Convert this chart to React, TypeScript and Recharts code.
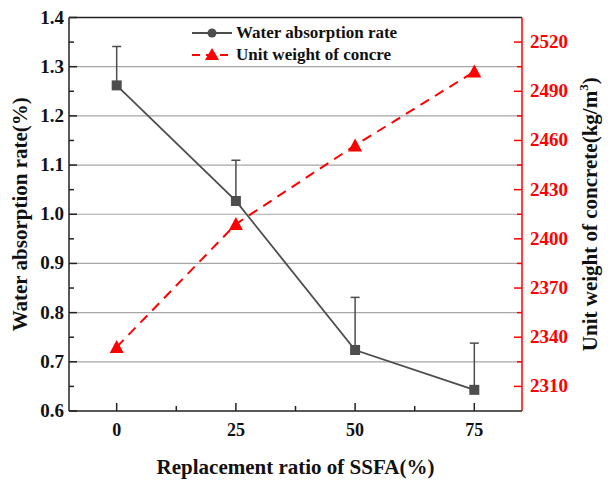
import React from "react";
import {
  LineChart,
  Line,
  XAxis,
  YAxis,
  ErrorBar,
  ReferenceLine,
} from "recharts";

const ratios = [0, 25, 50, 75];
const waterAbsorption = [1.262, 1.027, 0.724, 0.643];
const waterError = [0.079, 0.083, 0.107, 0.095];
const unitWeight = [2334, 2409, 2457, 2502];

const xTicks = [0, 12.5, 25, 37.5, 50, 62.5, 75];
const xMajor = [0, 25, 50, 75];
const leftTicks = [0.6, 0.65, 0.7, 0.75, 0.8, 0.85, 0.9, 0.95, 1.0, 1.05, 1.1, 1.15, 1.2, 1.25, 1.3, 1.35, 1.4];
const leftMajor = [0.6, 0.7, 0.8, 0.9, 1.0, 1.1, 1.2, 1.3, 1.4];
const gridValues = [0.7, 0.8, 0.9, 1.0, 1.1, 1.2, 1.3];
const rightTicks = [2310, 2325, 2340, 2355, 2370, 2385, 2400, 2415, 2430, 2445, 2460, 2475, 2490, 2505, 2520];
const rightMajor = [2310, 2340, 2370, 2400, 2430, 2460, 2490, 2520];

const data = ratios.map((r, i) => ({
  x: r,
  water: waterAbsorption[i],
  err: [0, waterError[i]],
  errTop: waterAbsorption[i] + waterError[i],
  weight: unitWeight[i],
}));

const FONT = "'Liberation Serif', 'Times New Roman', serif";
const GREY = "#4d4d4d";
const RED = "#ff0000";

const isMajor = (list: number[], v: number) => list.some((m) => Math.abs(m - v) < 1e-6);

const XTick = ({ x, y, payload }: any) => {
  const major = isMajor(xMajor, payload.value);
  return (
    <g>
      <line x1={x} x2={x} y1={y} y2={y - (major ? 8 : 5)} stroke="#222" strokeWidth={1.5} />
      {major && (
        <text x={x} y={y + 25} textAnchor="middle" fontFamily={FONT} fontWeight="bold" fontSize={18} fill="#111">
          {payload.value}
        </text>
      )}
    </g>
  );
};

const LeftTick = ({ x, y, payload }: any) => {
  const major = isMajor(leftMajor, payload.value);
  return (
    <g>
      <line x1={x} x2={x + (major ? 8 : 5)} y1={y} y2={y} stroke="#222" strokeWidth={1.5} />
      {major && (
        <text x={x - 5} y={y + 6} textAnchor="end" fontFamily={FONT} fontWeight="bold" fontSize={19} fill="#111">
          {payload.value.toFixed(1)}
        </text>
      )}
    </g>
  );
};

const RightTick = ({ x, y, payload }: any) => {
  const major = isMajor(rightMajor, payload.value);
  return (
    <g>
      <line x1={x} x2={x - (major ? 8 : 5)} y1={y} y2={y} stroke={RED} strokeWidth={1.5} />
      {major && (
        <text x={x + 8} y={y + 6} textAnchor="start" fontFamily={FONT} fontWeight="bold" fontSize={19} fill={RED}>
          {payload.value}
        </text>
      )}
    </g>
  );
};

const SquareDot = ({ cx, cy }: any) =>
  cx == null ? null : <rect x={cx - 5} y={cy - 5} width={10} height={10} fill={GREY} />;

const CapDot = ({ cx, cy }: any) =>
  cx == null ? null : <line x1={cx - 4.5} x2={cx + 4.5} y1={cy} y2={cy} stroke={GREY} strokeWidth={1.5} />;

const TriangleDot = ({ cx, cy }: any) =>
  cx == null ? null : (
    <polygon points={`${cx},${cy - 7} ${cx - 7},${cy + 6} ${cx + 7},${cy + 6}`} fill={RED} />
  );

const LeftLabel = ({ viewBox }: any) => {
  const cx = 20;
  const cy = viewBox.y + viewBox.height / 2;
  return (
    <text
      x={cx}
      y={cy}
      transform={`rotate(-90 ${cx} ${cy})`}
      textAnchor="middle"
      dominantBaseline="central"
      fontFamily={FONT}
      fontWeight="bold"
      fontSize={21}
      fill="#111"
    >
      Water absorption rate(%)
    </text>
  );
};

const RightLabel = ({ viewBox }: any) => {
  const cx = 590;
  const cy = viewBox.y + viewBox.height / 2;
  return (
    <text
      x={cx}
      y={cy}
      transform={`rotate(-90 ${cx} ${cy})`}
      textAnchor="middle"
      dominantBaseline="central"
      fontFamily={FONT}
      fontWeight="bold"
      fontSize={21}
      fill="#111"
    >
      Unit weight of concrete(kg/m
      <tspan dy={-7} fontSize={13}>3</tspan>
      <tspan dy={7}>)</tspan>
    </text>
  );
};

const XLabel = ({ viewBox }: any) => (
  <text
    x={viewBox.x + viewBox.width / 2}
    y={467}
    textAnchor="middle"
    dominantBaseline="central"
    fontFamily={FONT}
    fontWeight="bold"
    fontSize={21}
    fill="#111"
  >
    Replacement ratio of SSFA(%)
  </text>
);

const LegendBox = () => (
  <div
    style={{
      position: "absolute",
      left: 190,
      top: 22,
      fontFamily: FONT,
      fontWeight: "bold",
      fontSize: 17,
      color: "#111",
      lineHeight: "22px",
    }}
  >
    <div style={{ display: "flex", alignItems: "center" }}>
      <svg width={44} height={22}>
        <line x1={2} x2={42} y1={11} y2={11} stroke={GREY} strokeWidth={2} />
        <circle cx={22} cy={11} r={4.5} fill={GREY} />
      </svg>
      <span style={{ marginLeft: 2 }}>Water absorption rate</span>
    </div>
    <div style={{ display: "flex", alignItems: "center" }}>
      <svg width={44} height={22}>
        <line x1={2} x2={42} y1={11} y2={11} stroke={RED} strokeWidth={2} strokeDasharray="8 6" />
        <polygon points="22,4 15,16 29,16" fill={RED} />
      </svg>
      <span style={{ marginLeft: 2 }}>Unit weight of concre</span>
    </div>
  </div>
);

export default function App() {
  return (
    <div style={{ position: "absolute", left: 0, top: 0, width: 608, height: 489, background: "#fff" }}>
      <LineChart
        width={608}
        height={489}
        data={data}
        margin={{ top: 17.5, right: 0, bottom: 0, left: 0 }}
      >
        {gridValues.map((v) => (
          <ReferenceLine key={v} yAxisId="left" y={v} stroke="#a6a6a6" strokeWidth={1.2} />
        ))}
        <ReferenceLine yAxisId="left" y={1.4} stroke="#222" strokeWidth={1.5} />
        <XAxis
          dataKey="x"
          type="number"
          domain={[-10, 85]}
          ticks={xTicks}
          interval={0}
          height={78}
          tickSize={0}
          tickMargin={0}
          tickLine={false}
          tick={<XTick />}
          axisLine={{ stroke: "#222", strokeWidth: 1.5 }}
          label={<XLabel />}
        />
        <YAxis
          yAxisId="left"
          orientation="left"
          type="number"
          domain={[0.6, 1.4]}
          ticks={leftTicks}
          interval={0}
          width={69}
          tickSize={0}
          tickMargin={0}
          tickLine={false}
          tick={<LeftTick />}
          axisLine={{ stroke: "#222", strokeWidth: 1.5 }}
          allowDataOverflow
          label={<LeftLabel />}
        />
        <YAxis
          yAxisId="right"
          orientation="right"
          type="number"
          domain={[2295, 2535]}
          ticks={rightTicks}
          interval={0}
          width={86}
          tickSize={0}
          tickMargin={0}
          tickLine={false}
          tick={<RightTick />}
          axisLine={{ stroke: RED, strokeWidth: 1.5 }}
          allowDataOverflow
          label={<RightLabel />}
        />
        <Line
          yAxisId="left"
          dataKey="errTop"
          stroke="none"
          dot={<CapDot />}
          activeDot={false}
          legendType="none"
          isAnimationActive={false}
        />
        <Line
          yAxisId="left"
          dataKey="water"
          stroke={GREY}
          strokeWidth={1.8}
          dot={<SquareDot />}
          activeDot={false}
          isAnimationActive={false}
        >
          <ErrorBar dataKey="err" width={0} stroke={GREY} strokeWidth={1.5} direction="y" />
        </Line>
        <Line
          yAxisId="right"
          dataKey="weight"
          stroke={RED}
          strokeWidth={2}
          strokeDasharray="10 7"
          dot={<TriangleDot />}
          activeDot={false}
          isAnimationActive={false}
        />
      </LineChart>
      <LegendBox />
    </div>
  );
}
